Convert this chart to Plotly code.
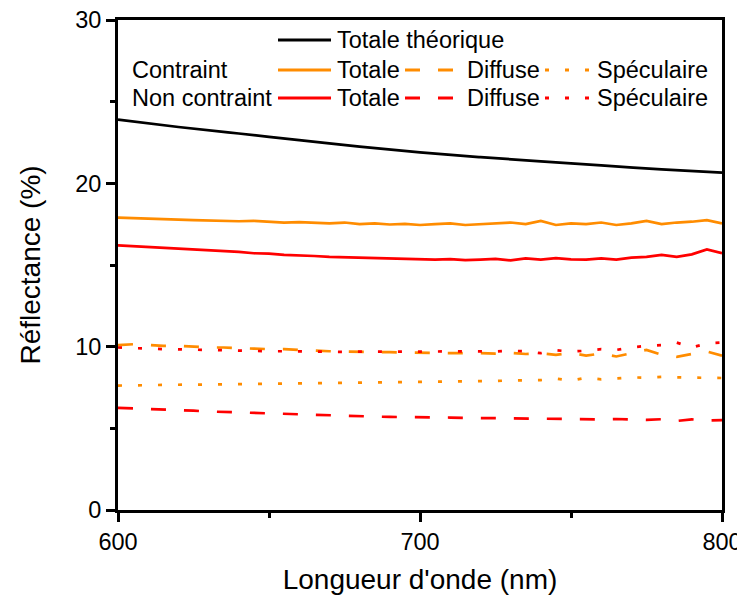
import plotly.graph_objects as go

# Wavelength grid (nm)
wavelength = list(range(600, 801, 5))
wavelength_theory = list(range(600, 801, 20))

# Theoretical total reflectance (%)
theory_total = [23.9, 23.45, 23.05, 22.65, 22.25, 21.9, 21.6, 21.35, 21.1, 20.85, 20.65]

# "Contraint" sample (%)
contraint_totale = [17.9, 17.88, 17.85, 17.8, 17.78, 17.75, 17.72, 17.7, 17.68, 17.7,
                    17.65, 17.6, 17.62, 17.58, 17.55, 17.6, 17.5, 17.55, 17.48, 17.52,
                    17.45, 17.5, 17.55, 17.45, 17.5, 17.55, 17.6, 17.5, 17.7, 17.45,
                    17.55, 17.5, 17.6, 17.45, 17.55, 17.7, 17.5, 17.6, 17.65, 17.75, 17.55]
contraint_diffuse = [10.1, 10.15, 10.1, 10.05, 10.05, 10.0, 9.95, 9.95, 9.9, 9.88,
                     9.85, 9.85, 9.8, 9.75, 9.72, 9.7, 9.7, 9.68, 9.66, 9.65,
                     9.65, 9.62, 9.6, 9.62, 9.6, 9.58, 9.62, 9.55, 9.6, 9.5,
                     9.62, 9.45, 9.58, 9.4, 9.62, 9.8, 9.5, 9.38, 9.55, 9.7, 9.45]
contraint_spec = [7.62, 7.64, 7.65, 7.66, 7.67, 7.68, 7.68, 7.7, 7.7, 7.72,
                  7.73, 7.74, 7.75, 7.76, 7.77, 7.78, 7.78, 7.8, 7.8, 7.82,
                  7.82, 7.84, 7.85, 7.87, 7.9, 7.9, 7.93, 7.95, 7.95, 8.05,
                  7.92, 8.1, 8.0, 8.05, 8.12, 8.1, 8.15, 8.12, 8.1, 8.1, 8.08]

# "Non contraint" sample (%)
noncontraint_totale = [16.2, 16.15, 16.12, 16.05, 16.0, 15.95, 15.9, 15.85, 15.8, 15.72,
                       15.7, 15.62, 15.6, 15.55, 15.5, 15.48, 15.45, 15.42, 15.4, 15.38,
                       15.35, 15.33, 15.36, 15.3, 15.33, 15.38, 15.28, 15.4, 15.33, 15.42,
                       15.35, 15.33, 15.4, 15.33, 15.45, 15.5, 15.62, 15.5, 15.65, 15.95, 15.72]
noncontraint_diffuse = [6.25, 6.22, 6.2, 6.15, 6.12, 6.08, 6.03, 6.0, 5.95, 5.93,
                        5.9, 5.87, 5.84, 5.8, 5.8, 5.78, 5.74, 5.72, 5.7, 5.7,
                        5.68, 5.67, 5.66, 5.64, 5.63, 5.62, 5.6, 5.6, 5.58, 5.6,
                        5.55, 5.56, 5.55, 5.57, 5.53, 5.52, 5.56, 5.45, 5.55, 5.48, 5.5]
noncontraint_spec = [9.95, 9.9, 9.88, 9.85, 9.82, 9.8, 9.8, 9.78, 9.75, 9.75,
                     9.72, 9.72, 9.7, 9.7, 9.7, 9.68, 9.7, 9.68, 9.7, 9.7,
                     9.68, 9.7, 9.72, 9.7, 9.72, 9.7, 9.75, 9.72, 9.6, 9.78,
                     9.7, 9.75, 9.85, 9.8, 9.95, 10.05, 10.1, 10.25, 9.95, 10.2, 10.25]

ORANGE = "#FF8C00"
RED = "#FF0000"
DASH = "15px,18px"
DOT = "4px,16px"
FONT = "Liberation Sans, Arial, sans-serif"

fig = go.Figure()

series = [
    (wavelength, contraint_diffuse, "Contraint - Diffuse", ORANGE, DASH),
    (wavelength, noncontraint_spec, "Non contraint - Spéculaire", RED, DOT),
    (wavelength, contraint_spec, "Contraint - Spéculaire", ORANGE, DOT),
    (wavelength, noncontraint_diffuse, "Non contraint - Diffuse", RED, DASH),
    (wavelength, contraint_totale, "Contraint - Totale", ORANGE, "solid"),
    (wavelength, noncontraint_totale, "Non contraint - Totale", RED, "solid"),
]
for x, y, name, color, dash in series:
    fig.add_trace(go.Scatter(x=x, y=y, mode="lines", name=name,
                             line=dict(color=color, width=2.7, dash=dash)))

fig.add_trace(go.Scatter(x=wavelength_theory, y=theory_total, mode="lines",
                         name="Totale théorique",
                         line=dict(color="black", width=2.7, shape="spline")))

# Hand-made legend laid out as a table (paper coordinates from pixel positions)
def px_x(p):
    return (p - 118) / 604

def px_y(p):
    return (510 - p) / 490

leg_font = dict(family=FONT, size=23.5, color="black")

def legend_sample(x0, x1, row_y, color, dash):
    fig.add_shape(type="line", xref="paper", yref="paper",
                  x0=px_x(x0), x1=px_x(x1), y0=px_y(row_y), y1=px_y(row_y),
                  line=dict(color=color, width=3, dash=dash))

def legend_text(x, row_y, text):
    fig.add_annotation(x=px_x(x), y=px_y(row_y), xref="paper", yref="paper", text=text,
                       showarrow=False, xanchor="left", yanchor="middle", font=leg_font,
                       borderpad=0)

legend_sample(278, 331, 40, "black", "solid")
legend_text(336, 40, "Totale théorique")
for row_y, label, color in [(70, "Contraint", ORANGE), (98, "Non contraint", RED)]:
    legend_text(131, row_y, label)
    legend_sample(278, 331, row_y, color, "solid")
    legend_text(336, row_y, "Totale")
    legend_sample(405, 453, row_y, color, DASH)
    legend_text(466, row_y, "Diffuse")
    legend_sample(545, 590, row_y, color, DOT)
    legend_text(596, row_y, "Spéculaire")

axis_common = dict(
    showline=True, linecolor="black", linewidth=2.7, mirror=True,
    ticks="outside", ticklen=9, tickwidth=2.5, tickcolor="black",
    showgrid=False, zeroline=False, automargin=False,
    ticklabeloverflow="allow",
    tickfont=dict(family=FONT, size=23.5, color="black"),
)

fig.update_xaxes(
    range=[600, 800], dtick=100,
    minor=dict(ticks="outside", ticklen=5, tickwidth=2.5, tickcolor="black", dtick=50, showgrid=False),
    title=dict(text="Longueur d'onde (nm)", font=dict(family=FONT, size=28, color="black"), standoff=16),
    **axis_common,
)
fig.update_yaxes(
    range=[0, 30], dtick=10,
    minor=dict(ticks="outside", ticklen=5, tickwidth=2.5, tickcolor="black", dtick=5, showgrid=False),
    title=dict(text="Réflectance (%)", font=dict(family=FONT, size=28, color="black"), standoff=27),
    **axis_common,
)

fig.update_layout(
    width=737, height=593,
    margin=dict(l=110, r=23, t=12, b=91),
    showlegend=False,
    plot_bgcolor="white", paper_bgcolor="white",
    font=dict(family=FONT, color="black"),
)

fig.write_html("out.html")
